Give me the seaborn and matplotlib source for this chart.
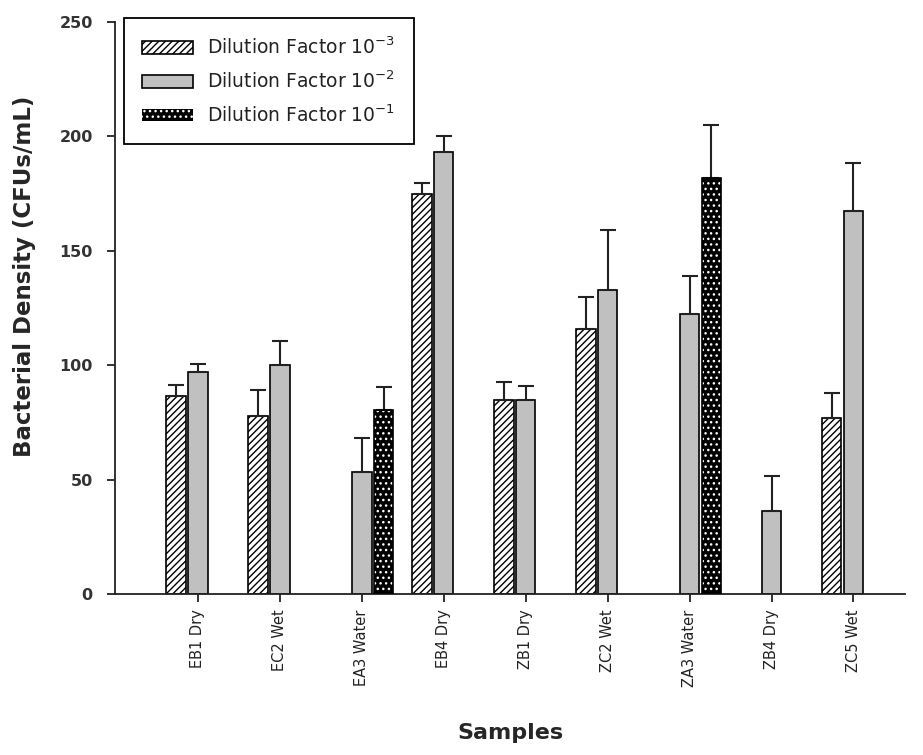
import numpy as np
import pandas as pd
import matplotlib
matplotlib.use('Agg')
import matplotlib.pyplot as plt
from matplotlib.patches import Patch, Rectangle
import seaborn as sns

samples = ['EB1 Dry', 'EC2 Wet', 'EA3 Water', 'EB4 Dry', 'ZB1 Dry',
           'ZC2 Wet', 'ZA3 Water', 'ZB4 Dry', 'ZC5 Wet']
series = ['Dilution Factor 10$^{-3}$', 'Dilution Factor 10$^{-2}$',
          'Dilution Factor 10$^{-1}$']

nan = np.nan
# dilution 10^-3 (hatched)
df3 = [86.5, 78, nan, 175, 85, 116, nan, nan, 77]
df3_err = [5, 11, nan, 4.5, 7.5, 14, nan, nan, 11]
# dilution 10^-2 (grey)
df2 = [97, 100, 53.5, 193, 85, 133, 122.5, 36.5, 167.5]
df2_err = [3.5, 10.5, 14.5, 7, 6, 26, 16.5, 15, 21]
# dilution 10^-1 (dotted)
df1 = [nan, nan, 80.5, nan, nan, nan, 182, nan, nan]
df1_err = [nan, nan, 10, nan, nan, nan, 23, nan, nan]

sns.set_theme(style='ticks')
plt.rcParams['font.family'] = ['DejaVu Sans']
plt.rcParams['mathtext.default'] = 'regular'
plt.rcParams['hatch.linewidth'] = 1.0

rows = []
for name, vals, errs in zip(series, [df3, df2, df1], [df3_err, df2_err, df1_err]):
    for s, v, e in zip(samples, vals, errs):
        rows.append({'Sample': s, 'Dilution': name, 'Density': v, 'Err': e})
data = pd.DataFrame(rows)
data = data.dropna()

colors = {series[0]: 'white', series[1]: '#c0c0c0', series[2]: 'black'}
hatches = ['/////', '', '...']

fig = plt.figure(figsize=(9.23, 7.55), dpi=100)
ax = fig.add_axes([0.1246, 0.2132, 0.856, 0.7577])

sns.barplot(data=data, x='Sample', y='Density', hue='Dilution', order=samples,
            hue_order=series, palette=colors, width=0.8, gap=0.1,
            edgecolor='black', linewidth=1.2, errorbar=None, legend=False, ax=ax)

bar_conts = list(ax.containers)
for i, cont in enumerate(bar_conts):
    sub = data[data['Dilution'] == series[i]].set_index('Sample')
    for p in cont.patches:
        xc = p.get_x() + p.get_width() / 2
        s = samples[int(round(xc))]
        p.set_hatch(hatches[i])
        if i == 2:
            p.set_edgecolor('white')
            p.set_linewidth(0)
            ax.add_patch(Rectangle(p.get_xy(), p.get_width(), p.get_height(),
                                   fill=False, ec='black', lw=1.2, zorder=3))
        ax.errorbar(xc, p.get_height(), yerr=[[0], [sub.loc[s, 'Err']]],
                    fmt='none', ecolor='#222222', elinewidth=1.5,
                    capsize=6, capthick=1.5, zorder=1)

ax.set_xlim(-1.01, 8.63)
ax.set_ylim(0, 250)
ax.set_yticks([0, 50, 100, 150, 200, 250])
sns.despine(ax=ax)
for sp in ['left', 'bottom']:
    ax.spines[sp].set_linewidth(1.3)
    ax.spines[sp].set_color('#222222')

ax.tick_params(axis='y', direction='out', length=6, width=1.3, labelsize=11.5,
               colors='#222222', pad=10)
ax.tick_params(axis='x', direction='out', length=6, width=1.3, labelsize=10.5,
               colors='#222222', pad=5)
for lab in ax.get_yticklabels():
    lab.set_fontweight('bold')
    lab.set_color('#333333')
plt.setp(ax.get_xticklabels(), rotation=90)

ax.set_xlabel('Samples', fontsize=16, fontweight='bold')
ax.set_ylabel('Bacterial Density (CFUs/mL)', fontsize=16.5, fontweight='bold')
ax.xaxis.set_label_coords(0.5, -0.225)
ax.yaxis.set_label_coords(-0.1, 0.555)

handles = [Patch(facecolor='white', edgecolor='black', hatch='/////', lw=1.2),
           Patch(facecolor='#c0c0c0', edgecolor='black', lw=1.2),
           Patch(facecolor='black', edgecolor='white', hatch='...', lw=0)]
leg = ax.legend(handles, series, loc='upper left', bbox_to_anchor=(0.011, 1.007),
                borderaxespad=0, fontsize=13.5, handlelength=2.7, handleheight=0.65,
                labelspacing=0.65, borderpad=1.0, handletextpad=0.75,
                fancybox=False, framealpha=1, edgecolor='black')
leg.get_frame().set_linewidth(1.3)
for t in leg.get_texts():
    t.set_color('#222222')

fig.savefig('out.png', dpi=100)
